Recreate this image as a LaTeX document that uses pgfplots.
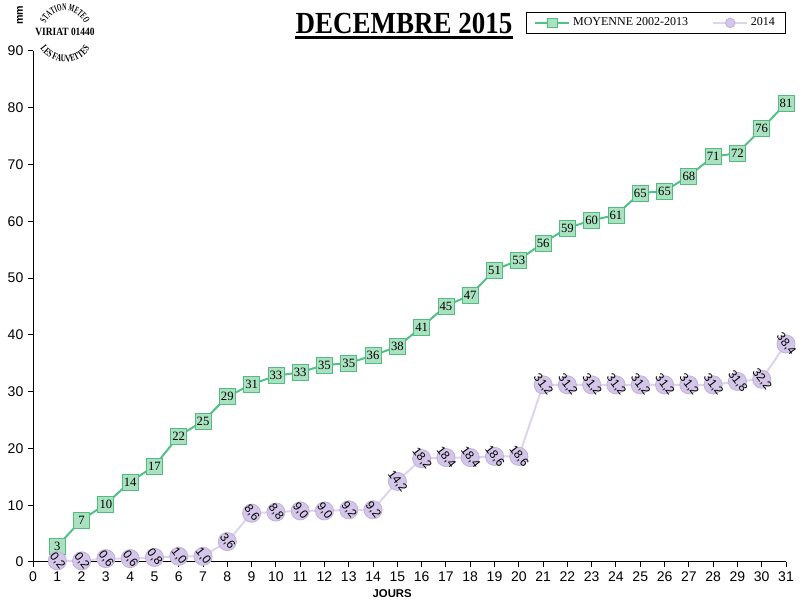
\documentclass[border=0pt]{standalone}
\usepackage{fontspec}
\setmainfont{Liberation Serif}
\newfontfamily\arial{Liberation Sans}
\newfontfamily\titlefont[FakeStretch=0.88]{Liberation Serif}
\newfontfamily\stampfont[FakeStretch=0.85]{Liberation Serif}
\newfontfamily\stamptop[FakeStretch=0.58]{Liberation Serif}
\newfontfamily\stampbot[FakeStretch=0.72]{Liberation Serif}
\usepackage{pgfplots}
\pgfplotsset{compat=1.18}
\usetikzlibrary{decorations.text}
\definecolor{gline}{RGB}{82,192,135}
\definecolor{gfill}{RGB}{170,225,192}
\definecolor{gedge}{RGB}{80,188,128}
\definecolor{pline}{RGB}{222,212,236}
\definecolor{pfill}{RGB}{212,198,232}
\definecolor{pedge}{RGB}{192,176,218}
\pgfplotstableread{
x y
1 2.8
2 7.4
3 10.2
4 14.1
5 16.9
6 22.2
7 24.8
8 29.1
9 31.3
10 32.8
11 33.4
12 34.7
13 35.0
14 36.4
15 37.9
16 41.4
17 45.1
18 47.0
19 51.4
20 53.2
21 56.2
22 58.8
23 60.2
24 61.1
25 65.0
26 65.3
27 68.0
28 71.4
29 72.0
30 76.3
31 80.8
}\moyenne
\pgfplotstableread{
x y
1 0.2
2 0.2
3 0.6
4 0.6
5 0.8
6 1.0
7 1.0
8 3.6
9 8.6
10 8.8
11 9.0
12 9.0
13 9.2
14 9.2
15 14.2
16 18.2
17 18.4
18 18.4
19 18.6
20 18.6
21 31.2
22 31.2
23 31.2
24 31.2
25 31.2
26 31.2
27 31.2
28 31.2
29 31.8
30 32.2
31 38.4
}\annee
\begin{document}
\begin{tikzpicture}
\useasboundingbox (0,0) rectangle (600pt,454.5pt);
\begin{axis}[
  at={(24.75pt,33pt)}, anchor=south west,
  scale only axis, width=564.75pt, height=383.25pt,
  xmin=0, xmax=31, ymin=0, ymax=90,
  axis x line=bottom, axis y line=left,
  axis line style={-, black, line width=0.75pt},
  xtick={0,...,31}, ytick={0,10,...,90},
  tick align=outside, major tick length=3.75pt,
  tick style={black, line width=0.75pt},
  ticklabel style={font=\arial\fontsize{10.5}{12}\selectfont},
  /pgf/number format/assume math mode=true,
  xlabel={JOURS},
  xlabel style={at={(axis description cs:0.477,0)}, anchor=center, yshift=-24pt,
    font=\arial\bfseries\fontsize{8.5}{10}\selectfont},
  clip=false,
  legend style={at={(1.0,1.076)}, anchor=north east, draw=black, line width=0.6pt,
    font=\fontsize{9}{10}\selectfont, legend columns=2,
    /tikz/every even column/.append style={column sep=16pt},
    inner xsep=6pt, inner ysep=2pt},
  legend image code/.code={
    \draw[mark repeat=2, mark phase=2, #1, mark size=3.6pt] plot coordinates {(0cm,0cm) (0.45cm,0cm) (0.9cm,0cm)};},
]
\addplot[color=gline, line width=1.5pt, mark=square*,
  mark options={fill=gfill, draw=gedge, line width=0.6pt}, mark size=6pt,
  nodes near coords={\pgfmathprintnumber[fixed,precision=0]{\pgfplotspointmeta}},
  every node near coord/.append style={anchor=center, font=\fontsize{9.5}{10}\selectfont, text=black, inner sep=0pt}
] table {\moyenne};
\addlegendentry{MOYENNE 2002-2013}
\addplot[color=pline, line width=1.5pt, mark=*,
  mark options={fill=pfill, draw=pedge, line width=0.6pt}, mark size=6.8pt,
  nodes near coords={\pgfmathprintnumber[fixed,fixed zerofill,precision=1,use comma]{\pgfplotspointmeta}},
  every node near coord/.append style={anchor=center, rotate=-52, font=\arial\fontsize{9}{10}\selectfont, text=black, inner sep=0pt}
] table {\annee};
\addlegendentry{2014}
\end{axis}
% y unit label
\node[rotate=90, font=\arial\bfseries\fontsize{8}{9}\selectfont] at (15pt,443pt) {mm};
% title
\node[inner sep=0pt, anchor=base, font=\titlefont\bfseries\fontsize{23}{24}\selectfont] (t) at (303pt,429.5pt) {DECEMBRE 2015};
\draw[line width=2.25pt] ([yshift=-3pt]t.base west) -- ([yshift=-3pt]t.base east);
% stamp
\coordinate (c) at (48.75pt,430.5pt);
\path[decorate, decoration={text along path, text align=center,
  text={|\stamptop\bfseries\fontsize{7.5}{8}\selectfont|STATION METEO}}]
  (c) ++(172:16pt) arc[start angle=172, end angle=8, radius=16pt];
\path[decorate, decoration={text along path, text align=center,
  text={|\stampbot\bfseries\fontsize{7.5}{8}\selectfont|LES FAUVETTES}}]
  (c) ++(196:22.5pt) arc[start angle=196, end angle=344, radius=22.5pt];
\node[font=\stampfont\bfseries\fontsize{8.3}{9}\selectfont, inner sep=0pt] at (c) {VIRIAT 01440};
\end{tikzpicture}
\end{document}
